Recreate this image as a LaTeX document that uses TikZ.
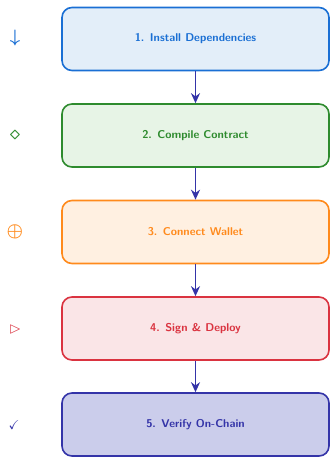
\documentclass[tikz,border=0pt]{standalone}
\usepackage{amssymb}
\usepackage{graphicx}
\usetikzlibrary{arrows.meta}
\definecolor{cblue}{HTML}{1A6FD4}
\definecolor{fblue}{HTML}{E3EEF9}
\definecolor{cgreen}{HTML}{2E8B2E}
\definecolor{fgreen}{HTML}{E7F4E6}
\definecolor{corange}{HTML}{FF8A1C}
\definecolor{forange}{HTML}{FFF0E1}
\definecolor{cred}{HTML}{DA3340}
\definecolor{fred}{HTML}{FAE5E7}
\definecolor{cindigo}{HTML}{3434A8}
\definecolor{findigo}{HTML}{CBCDEB}
\tikzset{
  stepbox/.style={draw, rounded corners=10pt, line width=1.6pt, minimum width=267pt, minimum height=63pt, inner sep=0pt, font=\sffamily\bfseries\fontsize{11.3}{13}\selectfont},
  flow/.style={draw=cindigo, line width=1.7pt, -{Stealth[length=10pt,width=9pt]}},
  icon/.style={inner sep=0pt, font=\boldmath}
}
\begin{document}
\begin{tikzpicture}[x=1pt,y=1pt]
\useasboundingbox (0,0) rectangle (331,-457);
\node[stepbox, draw=cblue, fill=fblue, text=cblue] (s1) at (195.5,-39) {1. Install Dependencies};
\node[stepbox, draw=cgreen, fill=fgreen, text=cgreen] (s2) at (195.5,-135.5) {2. Compile Contract};
\node[stepbox, draw=corange, fill=forange, text=corange] (s3) at (195.5,-232) {3. Connect Wallet};
\node[stepbox, draw=cred, fill=fred, text=cred] (s4) at (195.5,-328.5) {4. Sign \& Deploy};
\node[stepbox, draw=cindigo, fill=findigo, text=cindigo] (s5) at (195.5,-424.5) {5. Verify On-Chain};
\node[icon, text=cblue] (i1) at (15,-38) {\scalebox{1.8}{$\downarrow$}};
\node[icon, text=cgreen] (i2) at (15,-135) {\scalebox{1.8}{$\diamond$}};
\node[icon, text=corange] (i3) at (15,-232) {\scalebox{1.85}{$\oplus$}};
\node[icon, text=cred] (i4) at (15,-329) {\scalebox{1.6}{$\rhd$}};
\node[icon, text=cindigo] (i5) at (14,-425) {\scalebox{1.3}{$\checkmark$}};
\draw[flow] (s1.south) -- (s2.north);
\draw[flow] (s2.south) -- (s3.north);
\draw[flow] (s3.south) -- (s4.north);
\draw[flow] (s4.south) -- (s5.north);
\end{tikzpicture}
\end{document}
